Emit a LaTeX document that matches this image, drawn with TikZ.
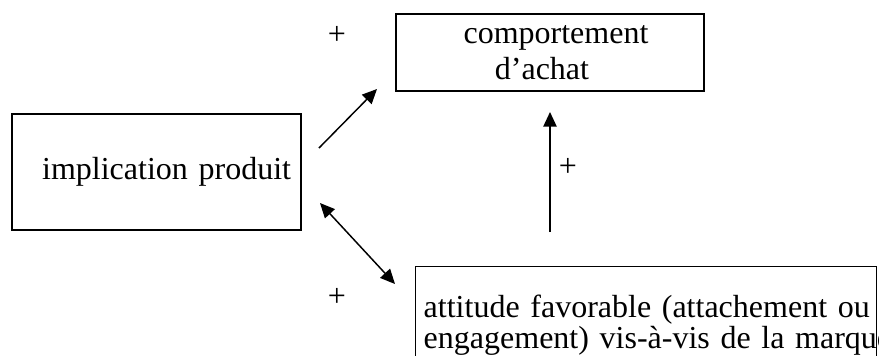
\documentclass[tikz,border=0pt]{standalone}
\usepackage{fontspec}
\setmainfont{Liberation Serif}
\usetikzlibrary{arrows.meta}
\begin{document}
\begin{tikzpicture}[x=0.75pt,y=-0.75pt,
	every node/.style={font=\fontsize{24}{27}\selectfont},
	box/.style={draw,line width=1.1pt,inner sep=0pt},
	arr/.style={line width=1.1pt,-{Triangle[length=11pt,width=10pt]}},
	darr/.style={line width=1.1pt,{Triangle[length=11pt,width=10pt]}-{Triangle[length=11pt,width=10pt]}}]
	\useasboundingbox (0,0) rectangle (879,355);
	\node[box,minimum width=231pt,minimum height=57.75pt,align=center] at (550,52.5) (achat) {\hspace*{9pt}comportement\\d'achat\hspace*{12pt}};
	\node[box,minimum height=87pt,text width=201.75pt,inner xsep=7.5pt,align=right] at (156.5,172) (produit) {implication produit};
	\node[box,anchor=north west,text width=333.75pt,inner xsep=6pt,inner ysep=21.5pt,align=left,font=\fontsize{24}{21.5}\selectfont] at (415,266) (marque) {\mbox{attitude favorable (attachement ou}\\\mbox{engagement) vis-à-vis de la marque}\\~};
	\node at (337,35) (plus1) {+};
	\node at (337,297) (plus2) {+};
	\node at (568,167) (plus3) {+};
	\coordinate (a1) at (319,148);
	\coordinate (b1) at (377,89);
	\coordinate (a2) at (320,203);
	\coordinate (b2) at (395,284);
	\coordinate (a3) at (550,232);
	\coordinate (b3) at (550,112);
	\draw[arr] (a1) -- (b1);
	\draw[darr] (a2) -- (b2);
	\draw[arr] (a3) -- (b3);
\end{tikzpicture}
\end{document}
